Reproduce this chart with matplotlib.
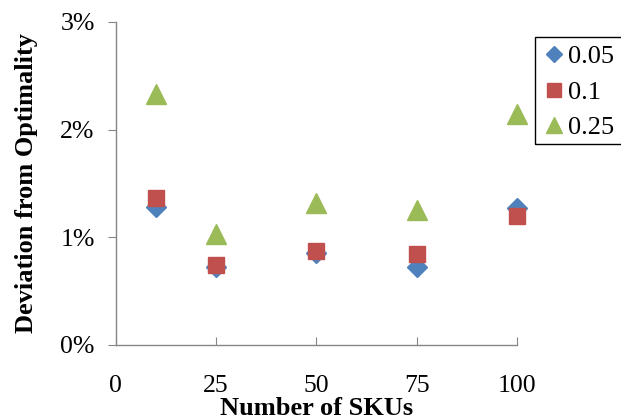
import numpy as np
import matplotlib
matplotlib.use('Agg')
import matplotlib.pyplot as plt
from matplotlib.ticker import FuncFormatter
from matplotlib.patches import Rectangle

# values (deviation in %)
skus = [10, 25, 50, 75, 100]
dev_005 = [1.28, 0.72, 0.85, 0.72, 1.27]
dev_01 = [1.36, 0.74, 0.87, 0.84, 1.20]
dev_025 = [2.33, 1.03, 1.32, 1.25, 2.14]
series_labels = ['0.05', '0.1', '0.25']

plt.rcParams['font.family'] = ['Liberation Serif', 'DejaVu Serif']

fig = plt.figure(figsize=(6.21, 4.2), dpi=100)
ax = fig.add_axes([0.186, 0.179, 0.647, 0.769])

ax.plot(skus, dev_005, 'D', color='#4F81BD', markersize=10, label=series_labels[0], clip_on=False)
ax.plot(skus, dev_01, 's', color='#C0504D', markersize=12, label=series_labels[1], clip_on=False)
ax.plot(skus, dev_025, '^', color='#9BBB59', markersize=14, label=series_labels[2], clip_on=False)

ax.set_xlim(0, 100)
ax.set_ylim(0, 3)
ax.set_xticks([0, 25, 50, 75, 100])
ax.set_yticks([0, 1, 2, 3])
ax.yaxis.set_major_formatter(FuncFormatter(lambda v, p: '%d%%' % v))

for s in ['top', 'right']:
    ax.spines[s].set_visible(False)
for s in ['left', 'bottom']:
    ax.spines[s].set_color('#868686')
    ax.spines[s].set_linewidth(1.0)

ax.tick_params(axis='x', direction='in', length=6, color='#868686', labelsize=18.5, pad=22)
ax.tick_params(axis='y', direction='out', length=6, color='#868686', labelsize=18.5, pad=9)

ax.set_xlabel('Number of SKUs', fontsize=19, fontweight='bold', labelpad=0)
ax.set_ylabel('Deviation from Optimality', fontsize=19, fontweight='bold', labelpad=16)

# legend without its own frame; the box runs off the right edge like the reference
leg = fig.legend(loc='upper left', bbox_to_anchor=(0.877, 0.893), fontsize=19,
                 frameon=False, handlelength=0.7, handletextpad=0.2,
                 borderpad=0.0, labelspacing=0.45, borderaxespad=0, markerscale=0.8)
fig.patches.append(Rectangle((535 / 621, 1 - 144 / 420), 0.2, 107 / 420,
                             transform=fig.transFigure, fill=False,
                             edgecolor='black', linewidth=1.0))

fig.savefig('out.png', dpi=100)
